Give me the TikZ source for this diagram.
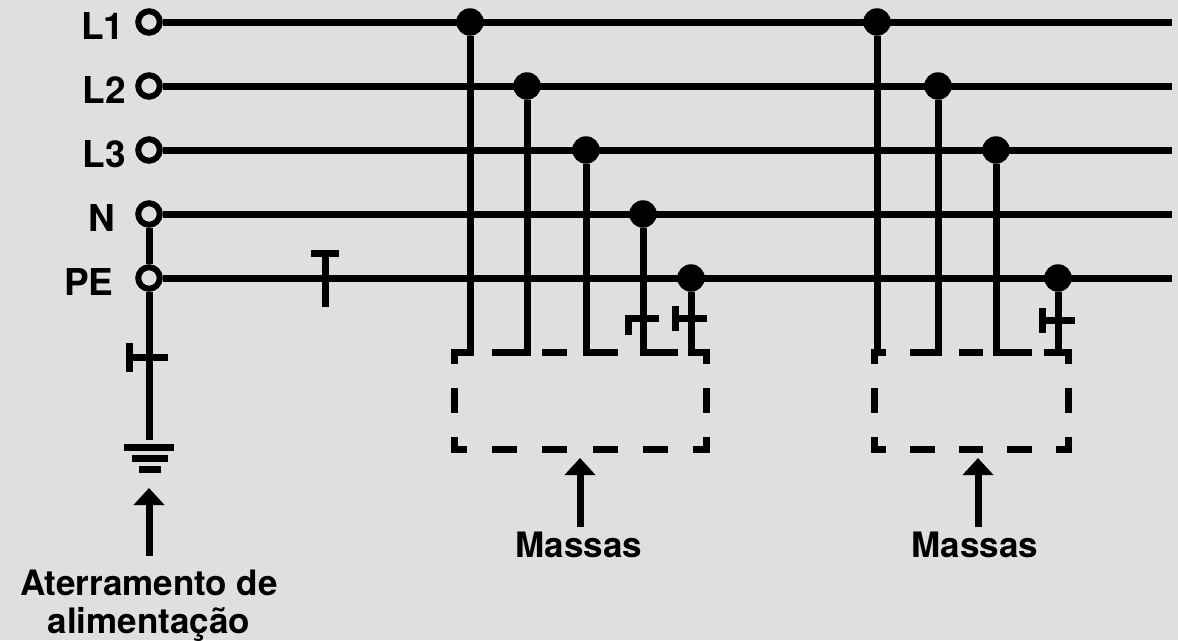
\documentclass[tikz,border=0pt]{standalone}
\usepackage{fontspec}
\setmainfont{TeX Gyre Heros}
\usetikzlibrary{positioning, arrows.meta}
\definecolor{bggray}{HTML}{DFDFDF}
\tikzset{
    x=1pt, y=-1pt,
    wire/.style={line width=7pt},
    terminal/.style={circle, draw, line width=6pt, fill=bggray, inner sep=0pt, minimum size=21.5pt},
    dot/.style={circle, fill=black, inner sep=0pt, minimum size=27.5pt},
    phase/.style={font=\bfseries\fontsize{37}{37}\selectfont, inner sep=0pt, yshift=-4pt},
    caption/.style={font=\bfseries\fontsize{35}{38}\selectfont, inner sep=0pt, align=center},
    pointer/.style={wire, -{Triangle[length=17pt, width=30pt]}},
    massbox/.style 2 args={wire, line cap=rect, dash pattern=on #1pt off #2pt, dash phase=#1pt/2},
}
\begin{document}
\begin{tikzpicture}
        \fill [bggray] (0,0) rectangle (1178,640);
        \useasboundingbox (0,0) rectangle (1178,640);

        \node [terminal] (t1) at (149,22) {};
        \node [terminal] (t2) at (149,86) {};
        \node [terminal] (t3) at (149,150) {};
        \node [terminal] (tn) at (149,214) {};
        \node [terminal] (tpe) at (149,278) {};
        \node [phase, left=10.5pt of t1] {L1};
        \node [phase, left=9pt of t2] {L2};
        \node [phase, left=9pt of t3] {L3};
        \node [phase, left=20pt of tn] {N};
        \node [phase, left=21.5pt of tpe] {PE};

        \coordinate (e1) at (1172,22);
        \coordinate (e2) at (1172,86);
        \coordinate (e3) at (1172,150);
        \coordinate (en) at (1172,214);
        \coordinate (epe) at (1172,278);
        \draw [wire] (t1) -- (e1);
        \draw [wire] (t2) -- (e2);
        \draw [wire] (t3) -- (e3);
        \draw [wire] (tn) -- (en);
        \draw [wire] (tpe) -- (epe);

        \node [dot] (a1) at (470,22) {};
        \node [dot] (a2) at (527,86) {};
        \node [dot] (a3) at (586,150) {};
        \node [dot] (an) at (643,214) {};
        \node [dot] (ape) at (691,278) {};
        \node [dot] (b1) at (877,22) {};
        \node [dot] (b2) at (938,86) {};
        \node [dot] (b3) at (996,150) {};
        \node [dot] (bpe) at (1058,278) {};

        \draw [massbox={18.2}{32.2}] (454,352) -- (706,352) (454,449) -- (706,449);
        \draw [massbox={17.25}{31.25}] (454,352) -- (454,449) (706,352) -- (706,449);
        \draw [massbox={17.25}{31.25}] (874,352) -- (1068,352) (874,449) -- (1068,449);
        \draw [massbox={17.25}{31.25}] (874,352) -- (874,449) (1068,352) -- (1068,449);

        \coordinate (k1) at (460,352);
        \coordinate (k2) at (505,352);
        \coordinate (k3) at (605,352);
        \coordinate (kn) at (678,352);
        \coordinate (kpe) at (703,352);
        \draw [wire] (a1) |- (k1);
        \draw [wire] (a2) |- (k2);
        \draw [wire] (a3) |- (k3);
        \draw [wire] (an) |- (kn);
        \draw [wire] (ape) |- (kpe);

        \coordinate (m1) at (877,355);
        \coordinate (m2) at (920,352);
        \coordinate (m3) at (1015,352);
        \coordinate (mpe) at (1058,352);
        \coordinate (mpl) at (1044,352);
        \coordinate (mpr) at (1065,352);
        \draw [wire] (b1) -- (m1);
        \draw [wire] (b2) |- (m2);
        \draw [wire] (b3) |- (m3);
        \draw [wire] (bpe) -- (mpe);
        \draw [wire] (mpl) -- (mpr);

        \draw [wire] (325,253) -- (325,307) (311,253) -- (339,253);
        \draw [wire] (628,335) |- (659,318);
        \draw [wire] (675,306) -- (675,331) (675,318) -- (707,318);
        \draw [wire] (1042,308) -- (1042,333) (1042,320) -- (1075,320);

        \coordinate (g) at (149,440);
        \draw [wire] (tn) -- (tpe);
        \draw [wire] (tpe) -- (g);
        \draw [wire] (129,343) -- (129,372) (129,357) -- (168,357);
        \draw [wire] (124,447) -- (174,447);
        \draw [wire] (132,458) -- (168,458);
        \draw [wire] (139,469) -- (161,469);

        \coordinate (p0) at (149,556);
        \coordinate (q0) at (149,488);
        \coordinate (p1) at (580,527);
        \coordinate (q1) at (580,458);
        \coordinate (p2) at (978,527);
        \coordinate (q2) at (978,458);
        \draw [pointer] (p0) -- (q0);
        \draw [pointer] (p1) -- (q1);
        \draw [pointer] (p2) -- (q2);

        \node [caption] (c0) at (149,606) {Aterramento de\\alimentação};
        \node [caption] (c1) at (579,545) {Massas};
        \node [caption] (c2) at (975,545) {Massas};
    \end{tikzpicture}
\end{document}
